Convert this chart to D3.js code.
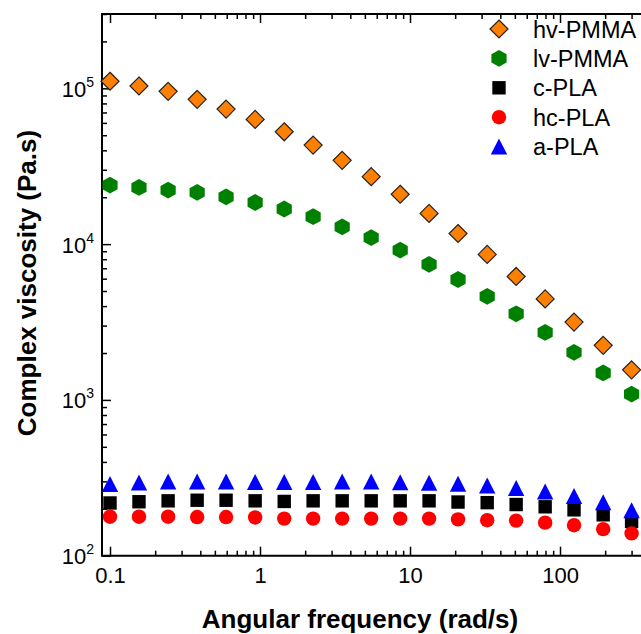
<!DOCTYPE html>
<html>
<head>
<style>
  body { margin: 0; background: #fff; }
  svg text { font-family: "Liberation Sans", Arial, sans-serif; fill: #000; }
</style>
</head>
<body>
<svg id="chart" width="641" height="634"></svg>
<script src="https://d3js.org/d3.v7.min.js"></script>
<script>
// angular frequency (rad/s)
var freq = [0.1, 0.156, 0.244, 0.381, 0.594, 0.928, 1.45, 2.26, 3.53, 5.51, 8.60, 13.4, 20.9, 32.7, 51.0, 79.6, 124, 194, 300];
// complex viscosity (Pa.s)
var hvPMMA = [111000, 103500, 95700, 85000, 73600, 63200, 52600, 43200, 34500, 27100, 20900, 15750, 11700, 8590, 6200, 4450, 3160, 2240, 1560];
var lvPMMA = [23900, 23100, 22200, 21500, 20100, 18500, 16800, 15000, 12900, 11000, 9150, 7410, 5930, 4620, 3570, 2710, 2020, 1490, 1090];
var cPLA   = [218, 222, 225, 227, 227, 225, 223, 225, 225, 225, 225, 225, 221, 219, 213, 206, 197, 183, 166];
var hcPLA  = [178, 178, 178, 177, 177, 176, 173, 173, 173, 173, 173, 173, 171, 169, 168, 163, 157, 148, 139];
var aPLA   = [289, 295, 299, 299, 299, 297, 297, 297, 299, 299, 296, 294, 290, 282, 272, 258, 242, 220, 196];

var seriesNames = ["hv-PMMA", "lv-PMMA", "c-PLA", "hc-PLA", "a-PLA"];
var xTickLabels = ["0.1", "1", "10", "100"];
var yTickExps = [2, 3, 4, 5];

var svg = d3.select("#chart");
var margin = {left: 102, top: 14, right: 650, bottom: 555.7};

var x = d3.scaleLog().domain([0.08843, 398]).range([margin.left, margin.right]);
var y = d3.scaleLog().domain([100, 3e5]).range([margin.bottom, margin.top]);

// marker shapes, drawn around 0,0
function shapePath(kind) {
  var p = d3.path();
  if (kind == "diamond") {
    var r = 9;
    p.moveTo(0, -r); p.lineTo(r, 0); p.lineTo(0, r); p.lineTo(-r, 0); p.closePath();
  } else if (kind == "hexagon") {
    var w = 7.6, h = 8.4;
    p.moveTo(0, -h); p.lineTo(w, -h / 2); p.lineTo(w, h / 2); p.lineTo(0, h);
    p.lineTo(-w, h / 2); p.lineTo(-w, -h / 2); p.closePath();
  } else if (kind == "square") {
    p.rect(-6.7, -6.7, 13.4, 13.4);
  } else if (kind == "circle") {
    p.arc(0, 0, 7.2, 0, 2 * Math.PI);
  } else if (kind == "triangle") {
    p.moveTo(0, -8); p.lineTo(8.2, 8); p.lineTo(-8.2, 8); p.closePath();
  }
  return p.toString();
}

var series = [
  {name: seriesNames[0], values: hvPMMA, shape: "diamond",  fill: "#ff8000", stroke: "#222"},
  {name: seriesNames[1], values: lvPMMA, shape: "hexagon",  fill: "#008000", stroke: "none"},
  {name: seriesNames[2], values: cPLA,   shape: "square",   fill: "#000000", stroke: "none"},
  {name: seriesNames[3], values: hcPLA,  shape: "circle",   fill: "#ff0000", stroke: "none"},
  {name: seriesNames[4], values: aPLA,   shape: "triangle", fill: "#0000ff", stroke: "none"}
];

// ticks
var majorX = [0.1, 1, 10, 100];
var minorX = [];
[0.1, 1, 10, 100].forEach(function(d) {
  for (var k = 2; k <= 9; k++) minorX.push(d * k);
});
minorX = minorX.filter(function(v) { return v < 398; });
var majorY = yTickExps.map(function(e) { return Math.pow(10, e); });
var minorY = [];
[100, 1000, 10000, 100000].forEach(function(d) {
  for (var k = 2; k <= 9; k++) minorY.push(d * k);
});
minorY = minorY.filter(function(v) { return v <= 3e5; });

function tickStyle(g) {
  g.select(".domain").remove();
  g.selectAll(".tick line").attr("stroke", "#000").attr("stroke-width", 1.5);
}

// bottom axis
var xAxis = svg.append("g").attr("transform", "translate(0," + margin.bottom + ")")
  .call(d3.axisBottom(x).tickValues(majorX).tickSize(-9).tickPadding(12)
    .tickFormat(function(d, i) { return xTickLabels[i]; }));
xAxis.call(tickStyle);
xAxis.selectAll("text").attr("font-size", 22).attr("fill", "#000")
  .style("font-family", "'Liberation Sans', Arial, sans-serif");
svg.append("g").attr("transform", "translate(0," + margin.bottom + ")")
  .call(d3.axisBottom(x).tickValues(minorX).tickSize(-5).tickFormat(""))
  .call(tickStyle);

// top axis (mirror)
svg.append("g").attr("transform", "translate(0," + margin.top + ")")
  .call(d3.axisTop(x).tickValues(majorX).tickSize(-9).tickFormat(""))
  .call(tickStyle);
svg.append("g").attr("transform", "translate(0," + margin.top + ")")
  .call(d3.axisTop(x).tickValues(minorX).tickSize(-5).tickFormat(""))
  .call(tickStyle);

// left axis
svg.append("g").attr("transform", "translate(" + margin.left + ",0)")
  .call(d3.axisLeft(y).tickValues(majorY).tickSize(-9).tickFormat(""))
  .call(tickStyle);
svg.append("g").attr("transform", "translate(" + margin.left + ",0)")
  .call(d3.axisLeft(y).tickValues(minorY).tickSize(-5).tickFormat(""))
  .call(tickStyle);

// y tick labels 10^n
var yLab = svg.append("g").selectAll("text").data(yTickExps).enter().append("text")
  .attr("x", 94)
  .attr("y", function(d) { return y(Math.pow(10, d)) + 8.4; })
  .attr("text-anchor", "end")
  .attr("font-size", 22);
yLab.append("tspan").text("10");
yLab.append("tspan").attr("font-size", 14).attr("dy", -10).text(function(d) { return d; });

// frame
svg.append("path")
  .attr("d", "M" + margin.right + "," + margin.top + "H" + margin.left + "V" + margin.bottom + "H" + margin.right)
  .attr("fill", "none").attr("stroke", "#000").attr("stroke-width", 2);

// points
series.forEach(function(s) {
  svg.append("g").selectAll("path").data(s.values).enter().append("path")
    .attr("d", shapePath(s.shape))
    .attr("transform", function(d, i) { return "translate(" + x(freq[i]) + "," + y(d) + ")"; })
    .attr("fill", s.fill)
    .attr("stroke", s.stroke)
    .attr("stroke-width", 1.2);
});

// legend
var leg = svg.append("g").selectAll("g").data(series).enter().append("g")
  .attr("transform", function(d, i) { return "translate(499," + (29 + i * 29.4) + ")"; });
leg.append("path")
  .attr("d", function(d) { return shapePath(d.shape); })
  .attr("fill", function(d) { return d.fill; })
  .attr("stroke", function(d) { return d.stroke; })
  .attr("stroke-width", 1.2);
leg.append("text")
  .attr("x", 34).attr("y", 8.5)
  .attr("font-size", 23.5)
  .text(function(d) { return d.name; });

// axis titles
svg.append("text")
  .attr("x", 360).attr("y", 628)
  .attr("text-anchor", "middle")
  .attr("font-size", 26).attr("font-weight", "bold")
  .text("Angular frequency (rad/s)");
svg.append("text")
  .attr("transform", "translate(36,283) rotate(-90)")
  .attr("text-anchor", "middle")
  .attr("font-size", 26).attr("font-weight", "bold")
  .text("Complex viscosity (Pa.s)");
</script>
</body>
</html>
